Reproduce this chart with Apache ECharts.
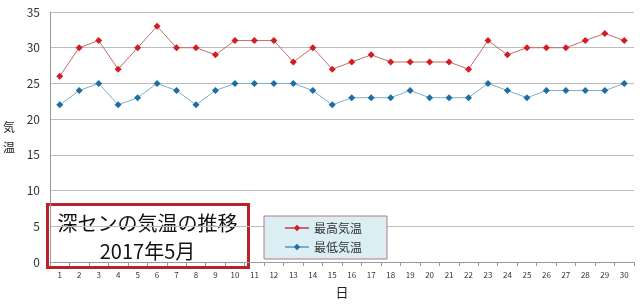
<!DOCTYPE html>
<html>
<head>
<meta charset="utf-8">
<script src="https://cdn.jsdelivr.net/npm/echarts@6/dist/echarts.min.js"></script>
<style>
  html, body { margin: 0; padding: 0; background: #fff; }
  #chart { width: 640px; height: 304px; }
</style>
</head>
<body>
<div id="chart"></div>
<script>
  // 5月の日付と気温
  const days = ['1','2','3','4','5','6','7','8','9','10','11','12','13','14','15',
                '16','17','18','19','20','21','22','23','24','25','26','27','28','29','30'];
  const maxTemp = [26,30,31,27,30,33,30,30,29,31,31,31,28,30,27,28,29,28,28,28,28,27,31,29,30,30,30,31,32,31];
  const minTemp = [22,24,25,22,23,25,24,22,24,25,25,25,25,24,22,23,23,23,24,23,23,23,25,24,23,24,24,24,24,25];
  const yTicks = [0, 5, 10, 15, 20, 25, 30, 35];

  const font = '"Noto Sans CJK JP", sans-serif';
  const chart = echarts.init(document.getElementById('chart'));

  chart.setOption({
    animation: false,
    textStyle: { fontFamily: font },
    grid: { left: 45, right: 6, top: 12, bottom: 37 },
    legend: {
      orient: 'vertical',
      left: 264, top: 216,
      backgroundColor: '#dbeef4',
      borderColor: '#b27a86',
      borderWidth: 1,
      padding: [6, 25, 6, 20],
      itemGap: 7,
      itemWidth: 24,
      itemHeight: 8,
      textStyle: { fontSize: 12, color: '#333', fontFamily: font },
      data: ['最高気温', '最低気温']
    },
    xAxis: {
      type: 'category',
      data: days,
      name: '日',
      nameLocation: 'middle',
      nameGap: 24,
      nameTextStyle: { fontSize: 13, color: '#222' },
      axisLine: { lineStyle: { color: '#999' } },
      axisTick: { show: true, length: 4, lineStyle: { color: '#999' } },
      axisLabel: { fontSize: 8, color: '#333', margin: 9 }
    },
    yAxis: {
      type: 'value',
      min: yTicks[0],
      max: yTicks[yTicks.length - 1],
      interval: 5,
      name: '気\n温',
      nameLocation: 'middle',
      nameRotate: 0,
      nameGap: 35,
      nameTextStyle: { fontSize: 12, color: '#222', lineHeight: 20 },
      axisLine: { show: true, lineStyle: { color: '#999' } },
      axisTick: { show: false },
      axisLabel: { fontSize: 12, color: '#333', margin: 10 },
      splitLine: { lineStyle: { color: '#bdbdbd', width: 1 } }
    },
    series: [
      {
        name: '最高気温',
        type: 'line',
        data: maxTemp,
        symbol: 'diamond',
        symbolSize: 7,
        itemStyle: { color: '#d41c22' },
        lineStyle: { color: '#c66a6a', width: 1 }
      },
      {
        name: '最低気温',
        type: 'line',
        data: minTemp,
        symbol: 'diamond',
        symbolSize: 7,
        itemStyle: { color: '#1c6ea4' },
        lineStyle: { color: '#7ab0c8', width: 1 }
      }
    ],
    graphic: [
      {
        type: 'group',
        left: 46, top: 203,
        z: 10,
        children: [
          {
            type: 'rect',
            shape: { x: 0, y: 0, width: 201, height: 63 },
            style: { fill: '#fff', stroke: '#b8222a', lineWidth: 3 }
          },
          {
            type: 'text',
            x: 100, y: 5,
            style: {
              text: '深センの気温の推移\n2017年5月',
              fill: '#111',
              font: '20px ' + font,
              align: 'center',
              lineHeight: 28
            }
          }
        ]
      }
    ]
  });
</script>
</body>
</html>
